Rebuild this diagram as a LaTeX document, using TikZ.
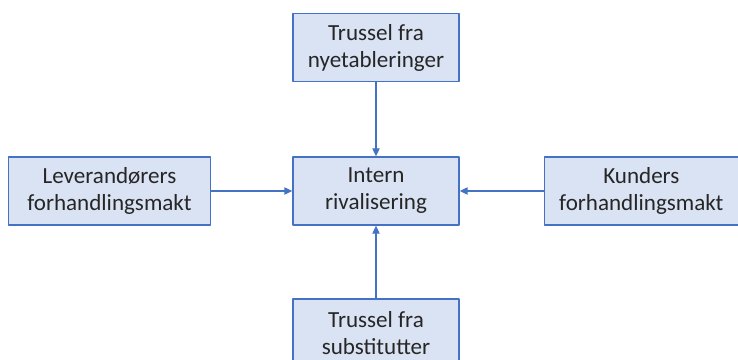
\documentclass[tikz,border=0pt]{standalone}
\usepackage{fontspec}
\setmainfont{Carlito}
\usetikzlibrary{positioning,arrows.meta}
\definecolor{boksfyll}{HTML}{DAE3F3}
\definecolor{boksrand}{HTML}{4472C4}
\begin{document}
\begin{tikzpicture}[x=0.025cm,y=-0.025cm,line join=round,>={Triangle[length=2mm,width=1.8mm]},
	font=\fontsize{16.4}{19.2}\selectfont]
	\tikzset{kraft/.style={draw=boksrand,fill=boksfyll,line width=0.9pt,align=center,inner sep=0pt,minimum height=1.7cm,text=black!85},
		pil/.style={->,draw=boksrand,line width=0.9pt}}
	\clip (0,0) rectangle (738,360);
	%Midten
	\node[kraft,minimum width=4.15cm] (intern) at (376,191) {Intern\\rivalisering};
	%Fire krefter
	\node[kraft,minimum width=4.15cm,above=1.85cm of intern] (nye) {Trussel fra\\nyetableringer};
	\node[kraft,minimum width=5.05cm,left=2.03cm of intern] (lev) {Leverandørers\\forhandlingsmakt};
	\node[kraft,minimum width=4.85cm,right=2.1cm of intern] (kunde) {Kunders\\forhandlingsmakt};
	\node[kraft,minimum width=4.15cm,below=1.82cm of intern] (sub) {Trussel fra\\substitutter};
	%Piler
	\draw[pil] (nye)--(intern);
	\draw[pil] (lev)--(intern);
	\draw[pil] (kunde)--(intern);
	\draw[pil] (sub)--(intern);
\end{tikzpicture}
\end{document}
